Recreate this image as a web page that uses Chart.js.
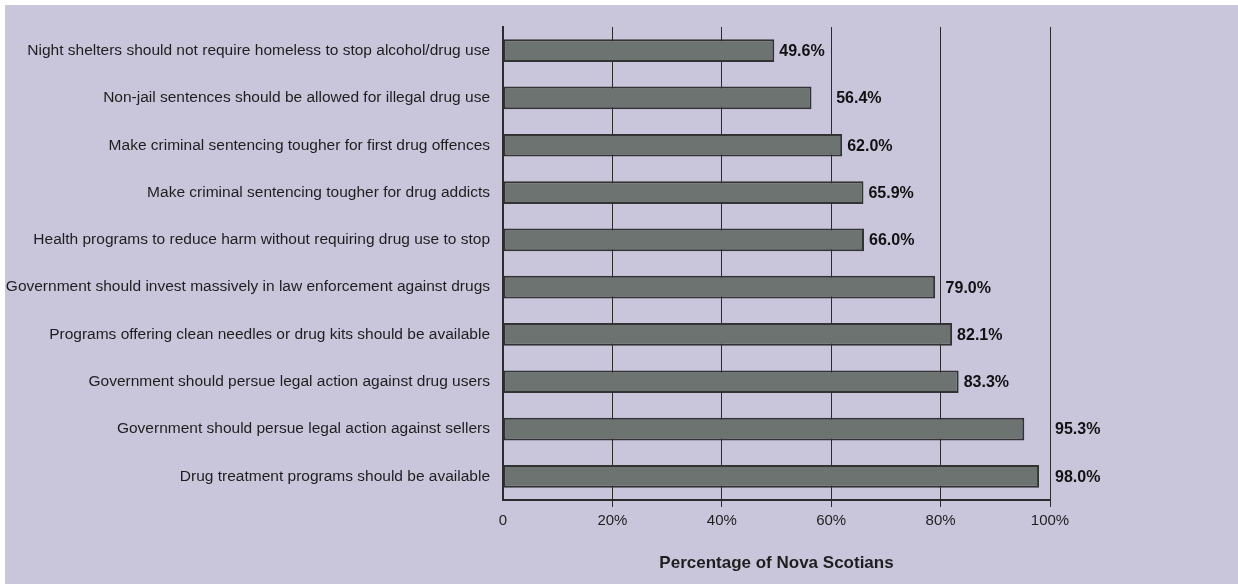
<!DOCTYPE html>
<html>
<head>
<meta charset="utf-8">
<title>Attitudes towards drug policy</title>
<script src="https://cdn.jsdelivr.net/npm/chart.js@4.4.0/dist/chart.umd.min.js"></script>
<style>
  html, body { margin: 0; padding: 0; background: #ffffff; }
  #wrap { width: 1238px; height: 584px; }
</style>
</head>
<body>
<div id="wrap"><canvas id="policyChart" width="1238" height="584"></canvas></div>
<script>
const statements = [
  "Night shelters should not require homeless to stop alcohol/drug use",
  "Non-jail sentences should be allowed for illegal drug use",
  "Make criminal sentencing tougher for first drug offences",
  "Make criminal sentencing tougher for drug addicts",
  "Health programs to reduce harm without requiring drug use to stop",
  "Government should invest massively in law enforcement against drugs",
  "Programs offering clean needles or drug kits should be available",
  "Government should persue legal action against drug users",
  "Government should persue legal action against sellers",
  "Drug treatment programs should be available"
];
const support = [49.6, 56.4, 62.0, 65.9, 66.0, 79.0, 82.1, 83.3, 95.3, 98.0];
const xTicks = [0, 20, 40, 60, 80, 100];
const axisTitle = "Percentage of Nova Scotians";

const FONT = "'Liberation Sans', Arial, sans-serif";
const INK = "#1e1e1e";

// lavender panel behind everything, leaving a thin white edge top/left
const panel = {
  id: "panel",
  beforeDraw(chart) {
    const c = chart.ctx;
    c.save();
    c.fillStyle = "#c9c6dc";
    c.fillRect(5, 5, chart.width - 5, chart.height - 5);
    c.restore();
  }
};

// percentage labels beside each bar, nudged past any gridline they would cross
const valueLabels = {
  id: "valueLabels",
  afterDatasetsDraw(chart) {
    const c = chart.ctx;
    const xs = chart.scales.x;
    const grid = xTicks.map(t => xs.getPixelForValue(t));
    const meta = chart.getDatasetMeta(0);
    c.save();
    c.font = "bold 16px " + FONT;
    c.fillStyle = "#111";
    c.textBaseline = "middle";
    c.textAlign = "left";
    meta.data.forEach((bar, i) => {
      const txt = support[i].toFixed(1) + "%";
      const w = c.measureText(txt).width;
      let x = bar.x + 5;
      grid.forEach(g => {
        if (g > bar.x && g < x + w) x = g + 5;
      });
      c.fillText(txt, x, bar.y + 1);
    });
    c.restore();
  }
};

new Chart(document.getElementById("policyChart"), {
  type: "bar",
  data: {
    labels: statements,
    datasets: [{
      data: support,
      backgroundColor: "#6d7371",
      borderColor: "#333333",
      borderWidth: 2,
      borderSkipped: false,
      categoryPercentage: 1,
      barPercentage: 0.48
    }]
  },
  options: {
    indexAxis: "y",
    responsive: false,
    animation: false,
    layout: { padding: { left: 0, top: 27, right: 188, bottom: 0 } },
    plugins: {
      legend: { display: false },
      tooltip: { enabled: false }
    },
    scales: {
      x: {
        min: 0,
        max: 100,
        afterFit: s => { s.height = 84; },
        afterBuildTicks: s => { s.ticks = xTicks.map(v => ({ value: v })); },
        grid: {
          color: ctx => ctx.index === 0 ? "rgba(0,0,0,0)" : "#2b2b2b",
          lineWidth: 1,
          tickLength: 7
        },
        border: { display: true, color: "#2b2b2b", width: 2 },
        ticks: {
          color: INK,
          padding: 5,
          font: { family: FONT, size: 15 },
          callback: v => v === 0 ? "0" : v + "%"
        },
        title: {
          display: true,
          text: axisTitle,
          color: INK,
          font: { family: FONT, size: 17, weight: "bold" },
          padding: { top: 0, bottom: 10 }
        }
      },
      y: {
        afterFit: s => { s.width = 503; },
        grid: { display: false, drawTicks: false },
        border: { display: true, color: "#2b2b2b", width: 2 },
        ticks: {
          color: INK,
          padding: 13,
          font: { family: FONT, size: 15.5 }
        }
      }
    }
  },
  plugins: [panel, valueLabels]
});
</script>
</body>
</html>
